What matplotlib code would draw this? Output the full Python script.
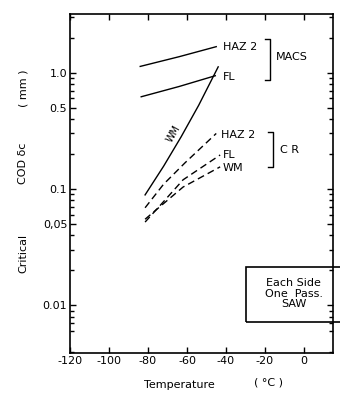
import matplotlib
matplotlib.use("Agg")
import matplotlib.pyplot as plt
from matplotlib.patches import Rectangle
from matplotlib.ticker import FixedLocator, FixedFormatter, LogLocator, NullFormatter

# MACS (solid)
macs_haz2_t = [-84, -64, -45]
macs_haz2 = [1.13, 1.37, 1.67]
macs_fl_t = [-83.5, -64, -45.5]
macs_fl = [0.62, 0.76, 0.94]
macs_wm_t = [-81.5, -72, -63, -54, -44]
macs_wm = [0.089, 0.157, 0.281, 0.524, 1.12]

# CR (dashed)
cr_haz2_t = [-81.5, -72, -61, -45]
cr_haz2 = [0.069, 0.11, 0.168, 0.30]
cr_fl_t = [-81.5, -72, -62, -43]
cr_fl = [0.052, 0.078, 0.12, 0.196]
cr_wm_t = [-81.5, -72, -62, -43]
cr_wm = [0.055, 0.075, 0.104, 0.155]

xticks = [-120, -100, -80, -60, -40, -20, 0]
xlabels = ["-120", "-100", "-80", "-60", "-40", "-20", "0"]
yticks = [0.01, 0.05, 0.1, 0.5, 1.0]
ylabels = ["0.01", "0,05", "0.1", "0.5", "1.0"]

fs = 8
fig = plt.figure(figsize=(3.4, 3.94), dpi=100)
ax = fig.add_axes([0.206, 0.104, 0.774, 0.861])

lw = 1.0
ax.plot(macs_haz2_t, macs_haz2, color="black", lw=lw)
ax.plot(macs_fl_t, macs_fl, color="black", lw=lw)
ax.plot(macs_wm_t, macs_wm, color="black", lw=lw)
ax.plot(cr_haz2_t, cr_haz2, color="black", lw=lw, ls=(0, (5, 3)))
ax.plot(cr_fl_t, cr_fl, color="black", lw=lw, ls=(0, (5, 3)))
ax.plot(cr_wm_t, cr_wm, color="black", lw=lw, ls=(0, (5, 3)))

ax.set_yscale("log")
ax.set_xlim(-120, 15)
ax.set_ylim(0.0039, 3.2)

ax.xaxis.set_major_locator(FixedLocator(xticks))
ax.xaxis.set_major_formatter(FixedFormatter(xlabels))
ax.yaxis.set_major_locator(FixedLocator(yticks))
ax.yaxis.set_major_formatter(FixedFormatter(ylabels))
ax.yaxis.set_minor_locator(LogLocator(base=10, subs=[2, 3, 4, 6, 7, 8, 9]))
ax.yaxis.set_minor_formatter(NullFormatter())
ax.tick_params(axis="both", which="both", direction="in", top=True, right=True,
               labelsize=fs, pad=2, width=1)
ax.tick_params(which="major", length=4)
ax.tick_params(which="minor", length=3)
for s in ax.spines.values():
    s.set_linewidth(1.2)

# labels at line ends
ax.text(-41.5, 1.67, "HAZ 2", fontsize=fs, va="center", ha="left")
ax.text(-41.5, 0.92, "FL", fontsize=fs, va="center", ha="left")
ax.text(-42.6, 0.292, "HAZ 2", fontsize=fs, va="center", ha="left")
ax.text(-41.5, 0.196, "FL", fontsize=fs, va="center", ha="left")
ax.text(-41.5, 0.152, "WM", fontsize=fs, va="center", ha="left")
ax.text(-67, 0.30, "WM", fontsize=fs - 1, va="center", ha="center", rotation=60)

# brackets
def bracket(x, y0, y1, w=2.6):
    ax.plot([x - w, x, x, x - w], [y0, y0, y1, y1], color="black", lw=1)

bracket(-17.4, 0.87, 1.93)
ax.text(-14.2, 1.35, "MACS", fontsize=fs, va="center", ha="left")
bracket(-16.0, 0.155, 0.31)
ax.text(-12.3, 0.217, "C R", fontsize=fs, va="center", ha="left")

# info box
ax.add_patch(Rectangle((0.667, 0.091), 0.4, 0.163, transform=ax.transAxes,
                       fill=False, lw=1.2, clip_on=False))
ax.text(0.85, 0.175, "Each Side\nOne  Pass.\nSAW", transform=ax.transAxes,
        fontsize=fs, ha="center", va="center", linespacing=1.05)

# axis titles
fig.text(0.068, 0.358, "Critical", rotation=90, fontsize=fs, ha="center", va="center")
fig.text(0.068, 0.585, "COD δc", rotation=90, fontsize=fs, ha="center", va="center")
fig.text(0.068, 0.775, "( mm )", rotation=90, fontsize=fs, ha="center", va="center")
fig.text(0.529, 0.023, "Temperature", fontsize=fs, ha="center", va="center")
fig.text(0.79, 0.028, "( °C )", fontsize=fs, ha="center", va="center")

fig.savefig("out.png", dpi=100)
